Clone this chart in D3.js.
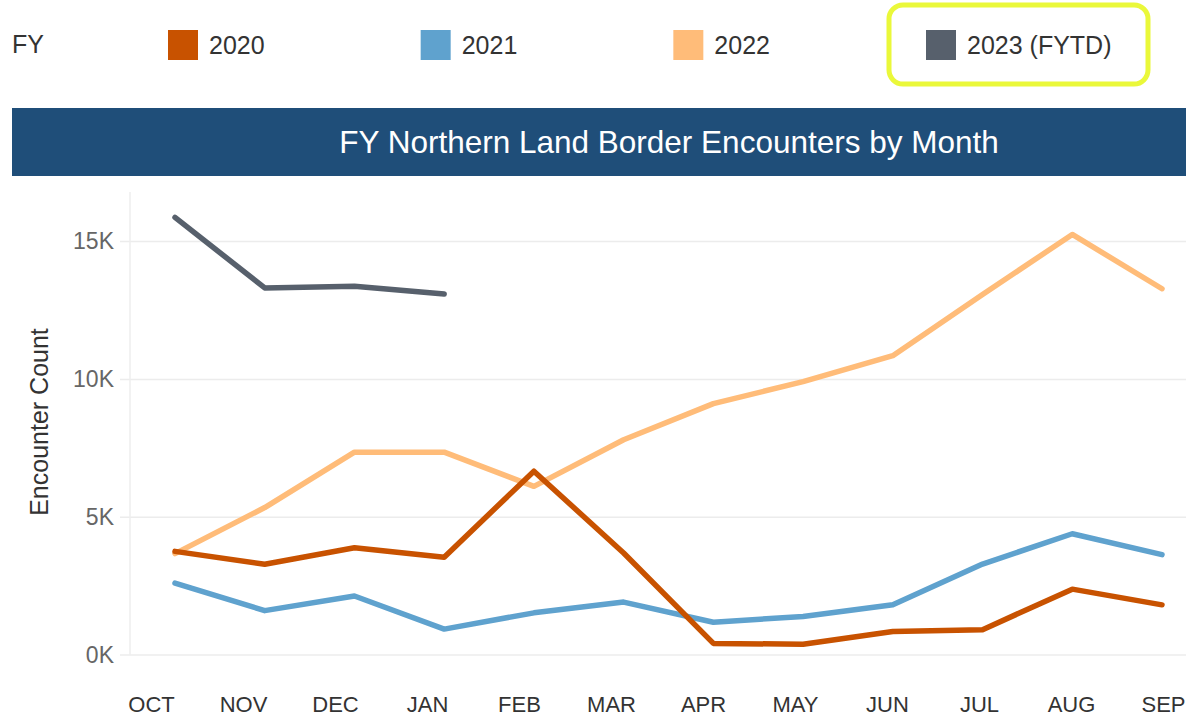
<!DOCTYPE html>
<html>
<head>
<meta charset="utf-8">
<script src="https://cdn.jsdelivr.net/npm/d3@7"></script>
<style>
  body { margin: 0; background: #fff; }
  svg { display: block; font-family: "Liberation Sans", Arial, sans-serif; }
</style>
</head>
<body>
<svg id="chart" width="1186" height="717"></svg>
<script>
// months of the fiscal year
const months = ["OCT", "NOV", "DEC", "JAN", "FEB", "MAR", "APR", "MAY", "JUN", "JUL", "AUG", "SEP"];

// encounters per month
const fy2020 = [3760, 3290, 3890, 3550, 6670, 3700, 420, 390, 850, 920, 2390, 1820];
const fy2021 = [2610, 1610, 2140, 940, 1530, 1920, 1190, 1400, 1820, 3300, 4400, 3640];
const fy2022 = [3680, 5350, 7360, 7360, 6120, 7810, 9120, 9920, 10860, 13080, 15260, 13290];
const fy2023 = [15880, 13320, 13380, 13100];

const seriesNames = ["2020", "2021", "2022", "2023 (FYTD)"];
const seriesColors = ["#c85200", "#5fa2ce", "#ffbc79", "#57606c"];
const yTicks = [0, 5000, 10000, 15000];

const svg = d3.select("#chart");

// legend
svg.append("text").attr("x", 12).attr("y", 53)
  .attr("font-size", 25).attr("fill", "#333").text("FY");

const legendX = d3.scalePoint().domain(seriesNames).range([168, 926]);
const lg = svg.selectAll(".lg").data(seriesNames).enter().append("g")
  .attr("transform", d => `translate(${legendX(d)},30)`);
lg.append("rect").attr("width", 30).attr("height", 30)
  .attr("fill", (d, i) => seriesColors[i]);
lg.append("text").attr("x", 41).attr("y", 24)
  .attr("font-size", 25).attr("fill", "#333").text(d => d);

// highlight box round the current year
svg.append("rect")
  .attr("x", legendX("2023 (FYTD)") - 37).attr("y", 5)
  .attr("width", 259).attr("height", 79).attr("rx", 14)
  .attr("fill", "none").attr("stroke", "#eaf83a").attr("stroke-width", 5);

// title bar
svg.append("rect").attr("x", 12).attr("y", 108).attr("width", 1174).attr("height", 68)
  .attr("fill", "#1f4e79");
svg.append("text").attr("x", 669).attr("y", 153).attr("text-anchor", "middle")
  .attr("font-size", 31.5).attr("fill", "#fff")
  .text("FY Northern Land Border Encounters by Month");

// scales (labels sit on their own slightly wider band)
const x = d3.scalePoint().domain(months).range([175, 1162]);
const xLab = d3.scalePoint().domain(months).range([151, 1163]);
const y = d3.scaleLinear().domain([0, 16800]).range([655, 192]);

// gridlines
svg.append("g").selectAll("line").data(yTicks).enter().append("line")
  .attr("x1", 120).attr("x2", 1186)
  .attr("y1", d => y(d)).attr("y2", d => y(d))
  .attr("stroke", "#ececec").attr("stroke-width", 1.5);

svg.append("line").attr("x1", 130).attr("x2", 130)
  .attr("y1", y(16800)).attr("y2", y(0))
  .attr("stroke", "#eeeeee").attr("stroke-width", 1.5);

// y axis
const yAxis = svg.append("g").attr("transform", "translate(120,0)")
  .call(d3.axisLeft(y).tickValues(yTicks).tickSize(0).tickPadding(6)
    .tickFormat(d => (d / 1000) + "K"));
yAxis.select(".domain").remove();
yAxis.selectAll("text").attr("font-size", 23).attr("fill", "#666")
  .attr("font-family", "Liberation Sans, Arial, sans-serif");

svg.append("text")
  .attr("transform", "translate(48,422) rotate(-90)")
  .attr("text-anchor", "middle").attr("font-size", 25).attr("fill", "#333")
  .text("Encounter Count");

// x axis
const xAxis = svg.append("g").attr("transform", "translate(0,690)")
  .call(d3.axisBottom(xLab).tickSize(0).tickPadding(0));
xAxis.select(".domain").remove();
xAxis.selectAll("text").attr("font-size", 22).attr("fill", "#333")
  .attr("dy", "0").attr("y", 22)
  .attr("font-family", "Liberation Sans, Arial, sans-serif");

// lines
const line = d3.line()
  .x((d, i) => x(months[i]))
  .y(d => y(d));

const drawOrder = [
  { vals: fy2022, c: seriesColors[2] },
  { vals: fy2021, c: seriesColors[1] },
  { vals: fy2020, c: seriesColors[0] },
  { vals: fy2023, c: seriesColors[3] }
];

svg.append("g").selectAll("path").data(drawOrder).enter().append("path")
  .attr("d", d => line(d.vals))
  .attr("fill", "none")
  .attr("stroke", d => d.c)
  .attr("stroke-width", 5.5)
  .attr("stroke-linejoin", "round")
  .attr("stroke-linecap", "round");
</script>
</body>
</html>
